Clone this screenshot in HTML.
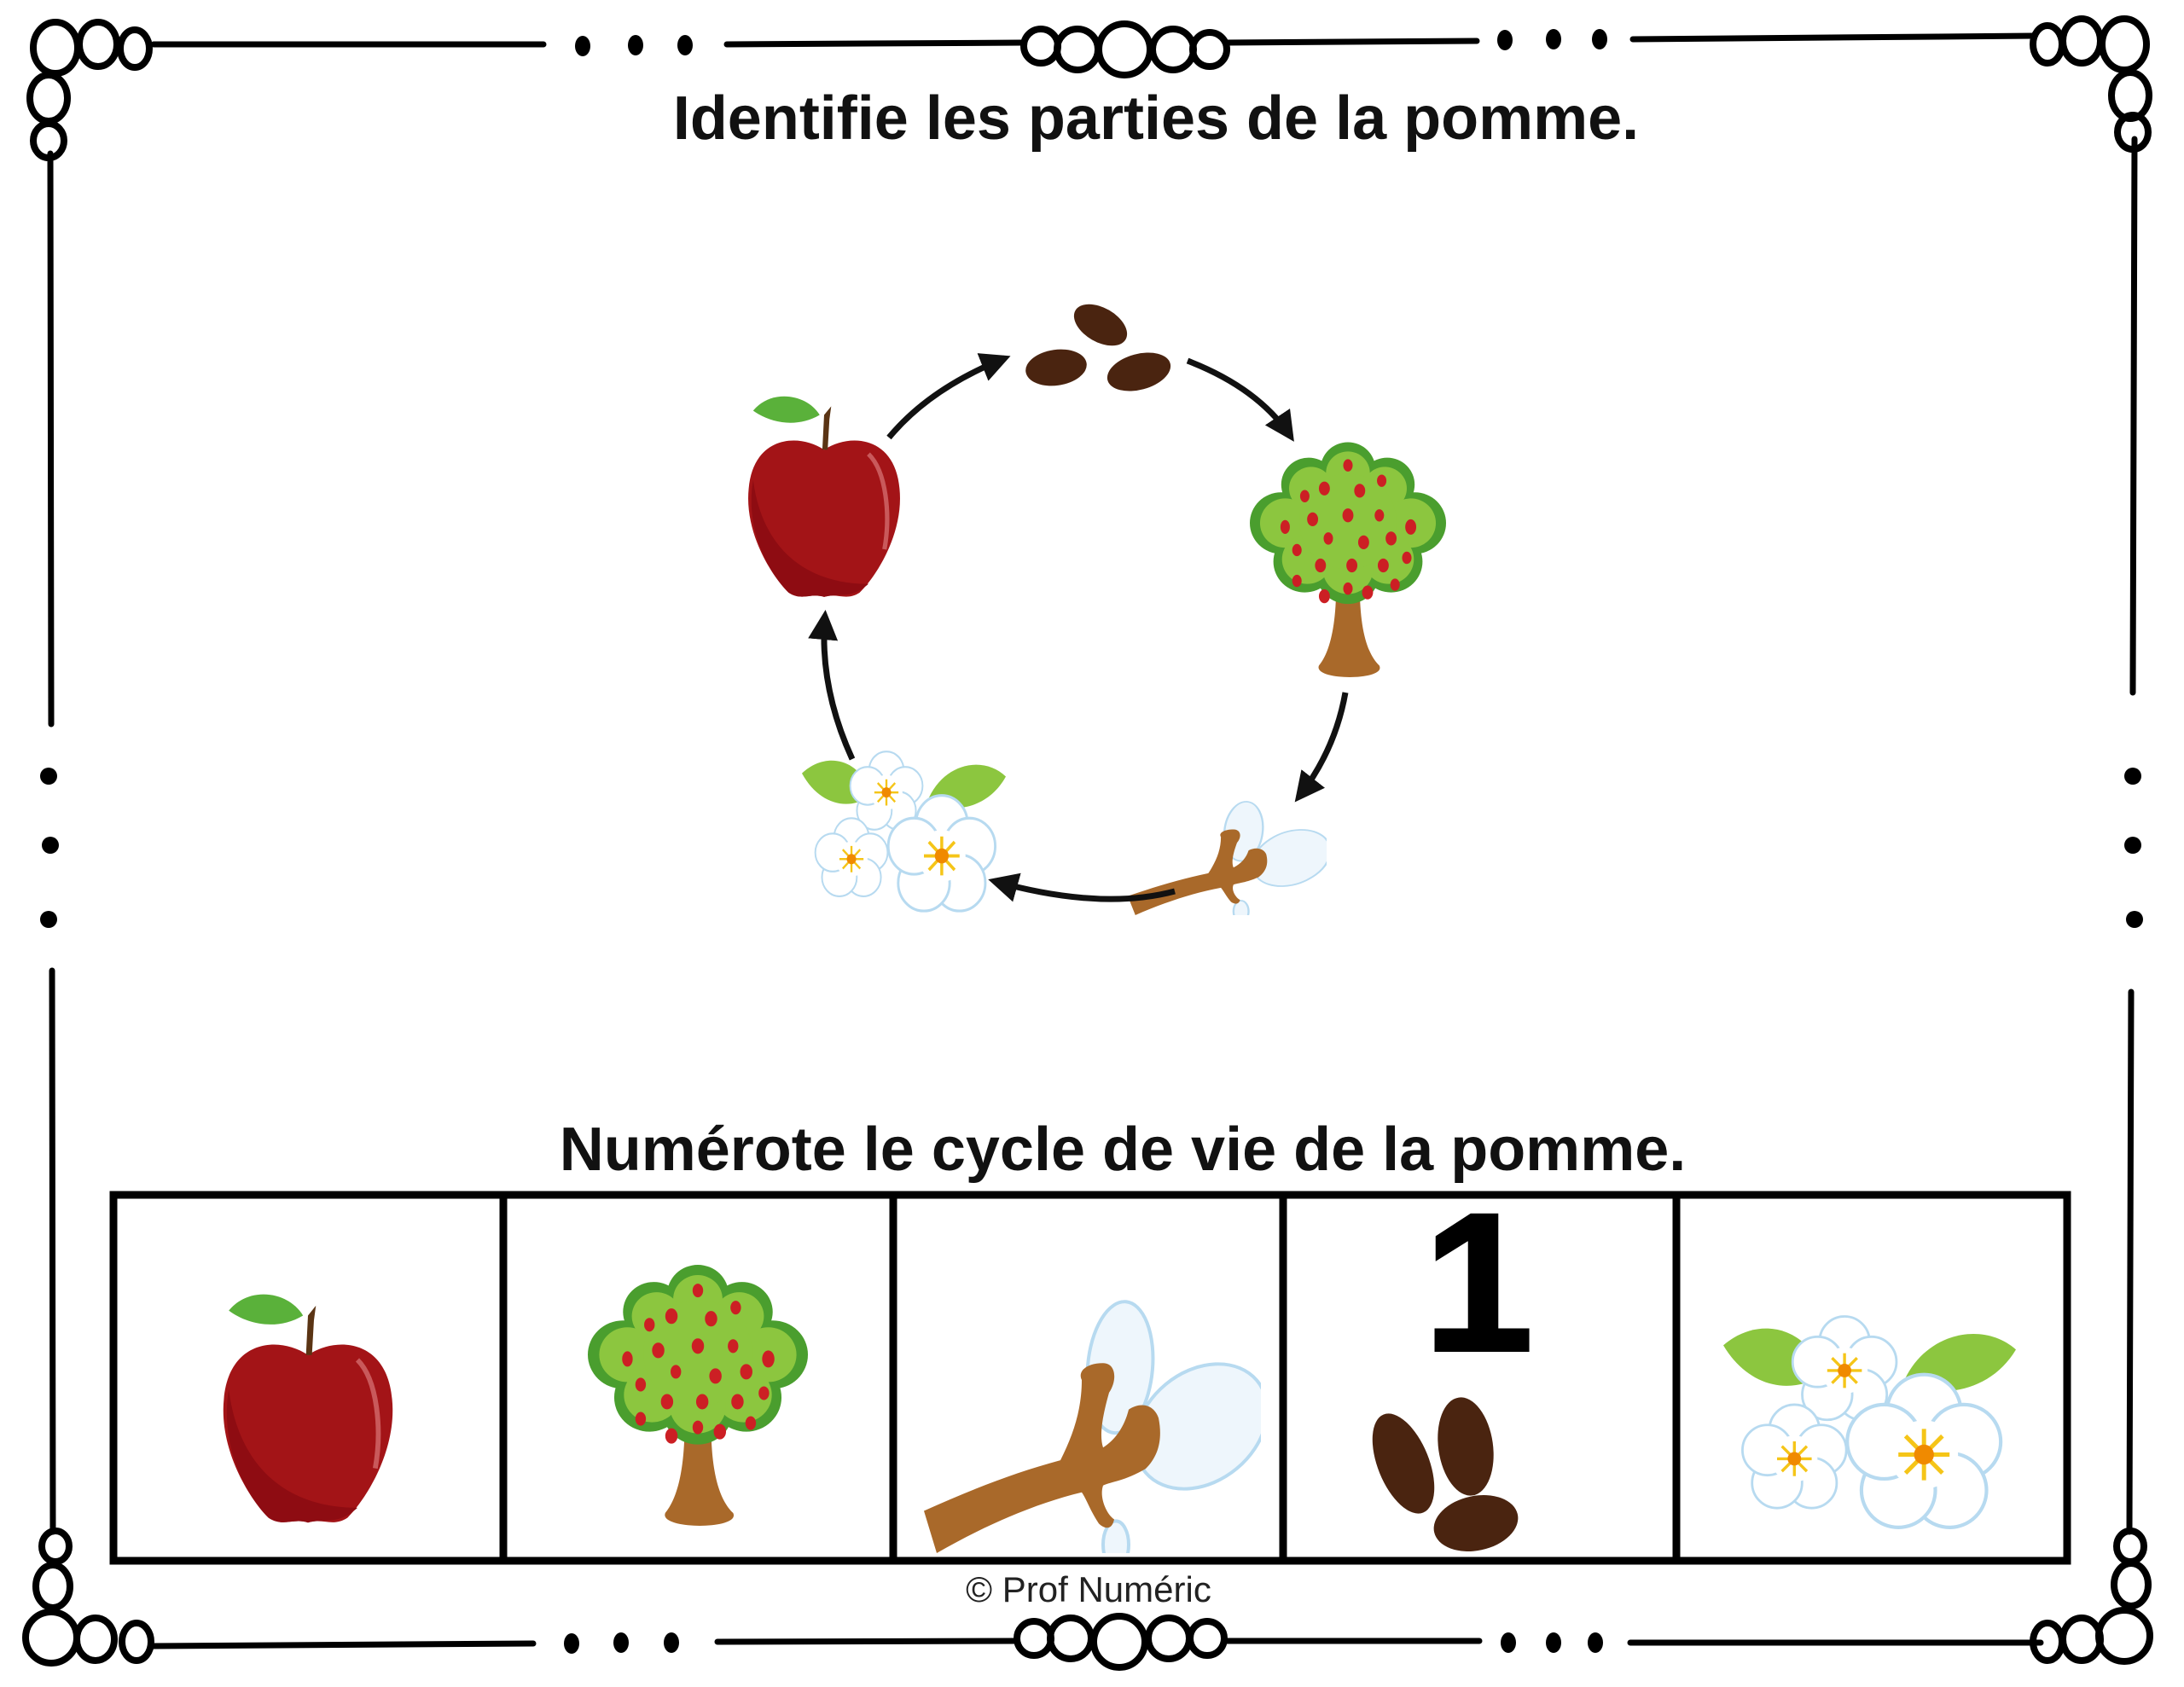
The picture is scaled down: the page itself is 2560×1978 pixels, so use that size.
<!DOCTYPE html>
<html><head><meta charset="utf-8"><style>
html,body{margin:0;padding:0;background:#fff}
svg{display:block}
text{font-family:"Liberation Sans","DejaVu Sans",sans-serif}
</style></head><body>
<svg width="2560" height="1978" viewBox="0 0 2560 1978" xmlns="http://www.w3.org/2000/svg">
<defs>
<marker id="ah" viewBox="0 0 10 10" refX="8" refY="5" markerWidth="5" markerHeight="5" orient="auto"><path d="M0 0L10 5L0 10Z" fill="#111"/></marker>
<symbol id="apple" viewBox="0 0 200 250" preserveAspectRatio="none">
<path d="M100 75 C70 55 20 60 15 120 C10 170 40 220 60 240 C75 250 85 240 100 245 C115 240 125 250 140 240 C160 220 190 170 185 120 C180 60 130 55 100 75Z" fill="#a31417"/>
<path d="M20 110 C30 190 80 230 150 230 C130 248 120 240 100 245 C85 240 75 250 60 240 C40 220 10 170 20 110Z" fill="#8e0c12"/>
<path d="M150 80 C170 100 175 150 168 190" stroke="#c9595b" stroke-width="5" fill="none"/>
<path d="M98 75 L100 35 L108 25 L106 40 L104 75Z" fill="#5a3414"/>
<path d="M20 30 C40 5 80 10 95 35 C70 50 40 45 20 30Z" fill="#5ab13a"/>
</symbol>
<symbol id="tree" viewBox="0 0 250 330" preserveAspectRatio="none">
<path d="M110 190 L140 190 C140 250 150 280 165 295 C175 315 80 315 88 295 C100 280 110 250 110 190Z" fill="#a9692a"/>
<g fill="#4a9e2e">
<circle cx="125" cy="40" r="35"/><circle cx="75" cy="60" r="35"/><circle cx="175" cy="60" r="35"/>
<circle cx="40" cy="110" r="40"/><circle cx="210" cy="110" r="40"/><circle cx="70" cy="160" r="40"/>
<circle cx="180" cy="160" r="40"/><circle cx="125" cy="175" r="40"/><circle cx="125" cy="105" r="70"/></g>
<g fill="#8cc63f">
<circle cx="125" cy="45" r="28"/><circle cx="78" cy="65" r="28"/><circle cx="172" cy="65" r="28"/>
<circle cx="45" cy="110" r="32"/><circle cx="205" cy="110" r="32"/><circle cx="73" cy="157" r="32"/>
<circle cx="177" cy="157" r="32"/><circle cx="125" cy="170" r="32"/><circle cx="125" cy="108" r="62"/></g>
<g fill="#cc1f24">
<ellipse cx="125" cy="35" rx="6" ry="8"/><ellipse cx="95" cy="65" rx="7" ry="9"/><ellipse cx="140" cy="68" rx="7" ry="9"/><ellipse cx="168" cy="55" rx="6" ry="8"/><ellipse cx="70" cy="75" rx="6" ry="8"/>
<ellipse cx="45" cy="115" rx="6" ry="9"/><ellipse cx="80" cy="105" rx="7" ry="9"/><ellipse cx="125" cy="100" rx="7" ry="9"/><ellipse cx="165" cy="100" rx="6" ry="8"/><ellipse cx="205" cy="115" rx="7" ry="10"/>
<ellipse cx="100" cy="130" rx="6" ry="8"/><ellipse cx="145" cy="135" rx="7" ry="9"/><ellipse cx="180" cy="130" rx="7" ry="9"/><ellipse cx="60" cy="145" rx="6" ry="8"/>
<ellipse cx="90" cy="165" rx="7" ry="9"/><ellipse cx="130" cy="165" rx="7" ry="9"/><ellipse cx="170" cy="165" rx="7" ry="9"/><ellipse cx="200" cy="155" rx="6" ry="8"/>
<ellipse cx="60" cy="185" rx="6" ry="8"/><ellipse cx="95" cy="205" rx="7" ry="9"/><ellipse cx="125" cy="195" rx="6" ry="8"/><ellipse cx="150" cy="200" rx="7" ry="9"/><ellipse cx="185" cy="190" rx="6" ry="8"/></g>
</symbol>
<symbol id="seedsA" viewBox="0 0 175 114" preserveAspectRatio="none">
<ellipse cx="90" cy="30" rx="34" ry="20" transform="rotate(30 90 30)" fill="#4a2410"/>
<ellipse cx="38" cy="80" rx="36" ry="21" transform="rotate(-8 38 80)" fill="#4a2410"/>
<ellipse cx="135" cy="85" rx="38" ry="21" transform="rotate(-15 135 85)" fill="#4a2410"/>
</symbol>
<symbol id="seedsB" viewBox="0 0 201 185" preserveAspectRatio="none">
<ellipse cx="45" cy="80" rx="30" ry="62" transform="rotate(-22 45 80)" fill="#4a2410"/>
<ellipse cx="118" cy="60" rx="32" ry="58" transform="rotate(-8 118 60)" fill="#4a2410"/>
<ellipse cx="130" cy="150" rx="50" ry="32" transform="rotate(-12 130 150)" fill="#4a2410"/>
</symbol>
<symbol id="branch" viewBox="0 0 400 300" preserveAspectRatio="none">
<g fill="#eef6fc" stroke="#b7daf0" stroke-width="4">
<ellipse cx="235" cy="80" rx="38" ry="78" transform="rotate(5 235 80)"/>
<ellipse cx="330" cy="150" rx="65" ry="85" transform="rotate(50 330 150)"/>
<ellipse cx="230" cy="290" rx="15" ry="28"/></g>
<path d="M5 250 C60 225 110 205 165 190 C180 160 190 130 190 95 C185 85 195 75 215 75 C230 75 232 95 222 110 C215 135 210 160 215 175 C230 165 240 150 245 130 C260 120 275 125 280 140 C285 165 280 185 265 200 C240 215 225 215 215 220 C210 235 220 255 228 260 C225 275 215 270 210 265 C200 250 195 235 190 228 C140 240 80 265 20 300Z" fill="#a9692a"/>
</symbol>
<g id="fl">
<g fill="#fff" stroke="#b7daf0" stroke-width="2.5">
<circle cx="0" cy="-30" r="26"/><circle cx="28" cy="-9" r="26"/><circle cx="18" cy="25" r="26"/><circle cx="-18" cy="25" r="26"/><circle cx="-28" cy="-9" r="26"/></g>
<circle r="24" fill="#fff"/>
<g stroke="#f5c518" stroke-width="3"><path d="M-18 0H18M0 -18V18M-13 -13L13 13M-13 13L13 -13"/></g>
<circle r="7" fill="#f08a00"/></g>
<symbol id="flowers" viewBox="0 0 350 270" preserveAspectRatio="none">
<path d="M0 40 C40 5 100 15 120 75 C80 100 30 90 0 40Z" fill="#8cc63f"/>
<path d="M350 45 C310 10 240 25 215 85 C260 105 320 95 350 45Z" fill="#8cc63f"/>
<use href="#fl" transform="translate(145 70) scale(1.15)"/>
<use href="#fl" transform="translate(85 175) scale(1.15)"/>
<use href="#fl" transform="translate(240 170) scale(1.7)"/>
</symbol>
</defs>

<!-- border -->
<g stroke="#000" stroke-width="7" fill="none" stroke-linecap="round">
<line x1="180" y1="52" x2="637" y2="52"/>
<line x1="852" y1="52" x2="1200" y2="50"/>
<line x1="1437" y1="50" x2="1731" y2="48"/>
<line x1="1914" y1="46" x2="2384" y2="42"/>
<line x1="59" y1="180" x2="60" y2="849"/>
<line x1="61" y1="1138" x2="62" y2="1796"/>
<line x1="2502" y1="163" x2="2500" y2="812"/>
<line x1="2498" y1="1163" x2="2496" y2="1796"/>
<line x1="180" y1="1930" x2="625" y2="1927"/>
<line x1="841" y1="1925" x2="1192" y2="1924"/>
<line x1="1437" y1="1924" x2="1734" y2="1924"/>
<line x1="1911" y1="1926" x2="2392" y2="1926"/>
</g>
<g fill="#000">
<ellipse cx="683" cy="54" rx="9" ry="12"/><ellipse cx="745" cy="53" rx="9" ry="12"/><ellipse cx="803" cy="53" rx="9" ry="12"/>
<ellipse cx="1764" cy="47" rx="9" ry="12"/><ellipse cx="1821" cy="46" rx="9" ry="12"/><ellipse cx="1875" cy="46" rx="9" ry="12"/>
<ellipse cx="57" cy="910" rx="10" ry="10"/><ellipse cx="59" cy="991" rx="10" ry="10"/><ellipse cx="57" cy="1078" rx="10" ry="10"/>
<ellipse cx="2500" cy="910" rx="10" ry="10"/><ellipse cx="2500" cy="991" rx="10" ry="10"/><ellipse cx="2502" cy="1078" rx="10" ry="10"/>
<ellipse cx="670" cy="1927" rx="9" ry="12"/><ellipse cx="728" cy="1926" rx="9" ry="12"/><ellipse cx="787" cy="1926" rx="9" ry="12"/>
<ellipse cx="1768" cy="1926" rx="9" ry="12"/><ellipse cx="1821" cy="1926" rx="9" ry="12"/><ellipse cx="1870" cy="1926" rx="9" ry="12"/>
</g>
<g fill="none" stroke="#000" stroke-width="8">
<ellipse cx="65" cy="56" rx="26" ry="30"/><ellipse cx="115" cy="52" rx="22" ry="26"/><ellipse cx="158" cy="57" rx="17" ry="22"/>
<ellipse cx="57" cy="115" rx="22" ry="27"/><ellipse cx="57" cy="165" rx="18" ry="20"/>
<ellipse cx="2490" cy="52" rx="26" ry="30"/><ellipse cx="2440" cy="48" rx="22" ry="26"/><ellipse cx="2400" cy="52" rx="17" ry="22"/>
<ellipse cx="2497" cy="112" rx="22" ry="27"/><ellipse cx="2500" cy="155" rx="18" ry="20"/>
<ellipse cx="60" cy="1920" rx="30" ry="30"/><ellipse cx="112" cy="1922" rx="22" ry="25"/><ellipse cx="160" cy="1925" rx="17" ry="22"/>
<ellipse cx="62" cy="1860" rx="20" ry="25"/><ellipse cx="65" cy="1813" rx="16" ry="18"/>
<ellipse cx="2490" cy="1918" rx="30" ry="30"/><ellipse cx="2440" cy="1922" rx="22" ry="25"/><ellipse cx="2400" cy="1925" rx="17" ry="22"/>
<ellipse cx="2498" cy="1858" rx="20" ry="25"/><ellipse cx="2497" cy="1813" rx="16" ry="18"/>
<ellipse cx="1220" cy="54" rx="20" ry="20"/><ellipse cx="1263" cy="58" rx="24" ry="24"/><ellipse cx="1318" cy="58" rx="30" ry="30"/><ellipse cx="1375" cy="58" rx="24" ry="24"/><ellipse cx="1418" cy="58" rx="20" ry="20"/>
<ellipse cx="1212" cy="1921" rx="20" ry="20"/><ellipse cx="1255" cy="1921" rx="24" ry="24"/><ellipse cx="1312" cy="1925" rx="30" ry="30"/><ellipse cx="1370" cy="1921" rx="24" ry="24"/><ellipse cx="1415" cy="1921" rx="20" ry="20"/>
</g>

<text x="1355" y="163" font-size="72" font-weight="bold" text-anchor="middle" fill="#111">Identifie les parties de la pomme.</text>

<!-- cycle -->
<use href="#apple" x="862" y="451" width="208" height="254"/>
<use href="#seedsA" x="1200" y="351" width="175" height="114"/>
<use href="#tree" x="1465" y="514" width="230" height="298"/>
<use href="#branch" x="1319" y="939" width="236" height="134"/>
<use href="#flowers" x="940" y="877" width="239" height="201"/>
<g stroke="#111" stroke-width="7" fill="none" marker-end="url(#ah)">
<path d="M1042 513 Q1090 455 1178 420"/>
<path d="M1392 423 Q1475 455 1513 512"/>
<path d="M1577 812 Q1565 880 1522 935"/>
<path d="M1377 1045 Q1290 1068 1165 1033"/>
<path d="M999 890 Q960 805 967 722"/>
</g>

<text x="1316" y="1372" font-size="72" font-weight="bold" text-anchor="middle" fill="#111">Numérote le cycle de vie de la pomme.</text>

<!-- table -->
<g stroke="#000" stroke-width="9" fill="none">
<rect x="133" y="1401" width="2290" height="429"/>
<line x1="590" y1="1401" x2="590" y2="1830"/>
<line x1="1047" y1="1401" x2="1047" y2="1830"/>
<line x1="1504" y1="1401" x2="1504" y2="1830"/>
<line x1="1965" y1="1401" x2="1965" y2="1830"/>
</g>
<use href="#apple" x="245" y="1502" width="232" height="289"/>
<use href="#tree" x="689" y="1478" width="258" height="331"/>
<use href="#branch" x="1078" y="1524" width="400" height="297"/>
<use href="#seedsB" x="1600" y="1636" width="201" height="185"/>
<use href="#flowers" x="2020" y="1538" width="343" height="266"/>
<text x="1733" y="1583" font-size="230" font-weight="bold" text-anchor="middle" fill="#000" stroke="#000" stroke-width="4">1</text>

<text x="1276" y="1878" font-size="42" text-anchor="middle" fill="#222">© Prof Numéric</text>
</svg>
</body></html>
